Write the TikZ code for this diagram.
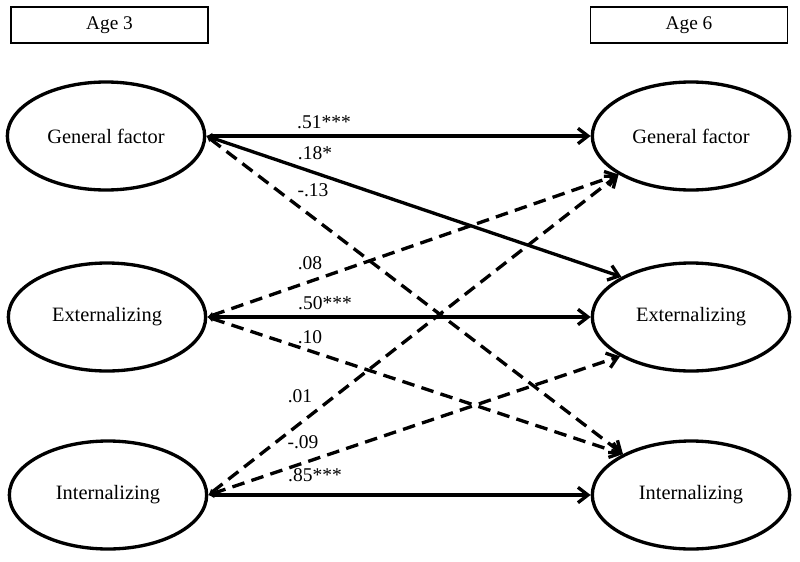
\documentclass[tikz,border=0pt]{standalone}
\usepackage{fontspec}
\setmainfont{Liberation Serif}
\usetikzlibrary{shapes.geometric,arrows.meta}
\begin{document}
\begin{tikzpicture}[x=0.75pt,y=-0.75pt,
  lat/.style={ellipse,draw,line width=2.5pt,minimum width=148pt,minimum height=81pt,inner sep=0pt,font=\fontsize{15.3}{17}\selectfont},
  agebox/.style={draw,line width=0.9pt,minimum width=147.75pt,minimum height=27pt,inner sep=0pt,font=\fontsize{14.5}{16}\selectfont},
  sol/.style={line width=2.5pt,{Latex[length=4.5pt,width=5pt]}-{Straight Barb[length=7.5pt,width=11.5pt]}},
  dsh/.style={sol,dash pattern=on 9.5pt off 5.5pt},
  lbl/.style={font=\fontsize{14.6}{16}\selectfont,inner sep=0pt}]
\useasboundingbox (0,0) rectangle (800,561);
\node[agebox] (a3) at (109.5,25) {Age 3};
\node[agebox] (a6) at (689,25) {Age 6};
\node[lat] (gL) at (106,136) {General factor};
\node[lat] (eL) at (107,317) {Externalizing};
\node[lat] (iL) at (108,495) {Internalizing};
\node[lat] (gR) at (691,136) {General factor};
\node[lat] (eR) at (691,317) {Externalizing};
\node[lat] (iR) at (691,495) {Internalizing};
\draw[sol] (gL.east) -- (gR.west);
\draw[sol] (gL.east) -- (eR.150);
\draw[dsh] (gL.east) -- (iR.149);
\draw[dsh] (eL.east) -- (gR.208);
\draw[sol] (eL.east) -- (eR.west);
\draw[dsh] (eL.east) -- (iR.149);
\draw[dsh] (iL.east) -- (gR.208);
\draw[dsh] (iL.east) -- (eR.209);
\draw[sol] (iL.east) -- (iR.west);
\node[lbl] (l1) at (324,122) {.51***};
\node[lbl] (l2) at (315,153) {.18*};
\node[lbl] (l3) at (313,190) {-.13};
\node[lbl] (l4) at (310,263) {.08};
\node[lbl] (l5) at (325,303) {.50***};
\node[lbl] (l6) at (310,337) {.10};
\node[lbl] (l7) at (300,396) {.01};
\node[lbl] (l8) at (303,442) {-.09};
\node[lbl] (l9) at (315,475) {.85***};
\end{tikzpicture}
\end{document}
